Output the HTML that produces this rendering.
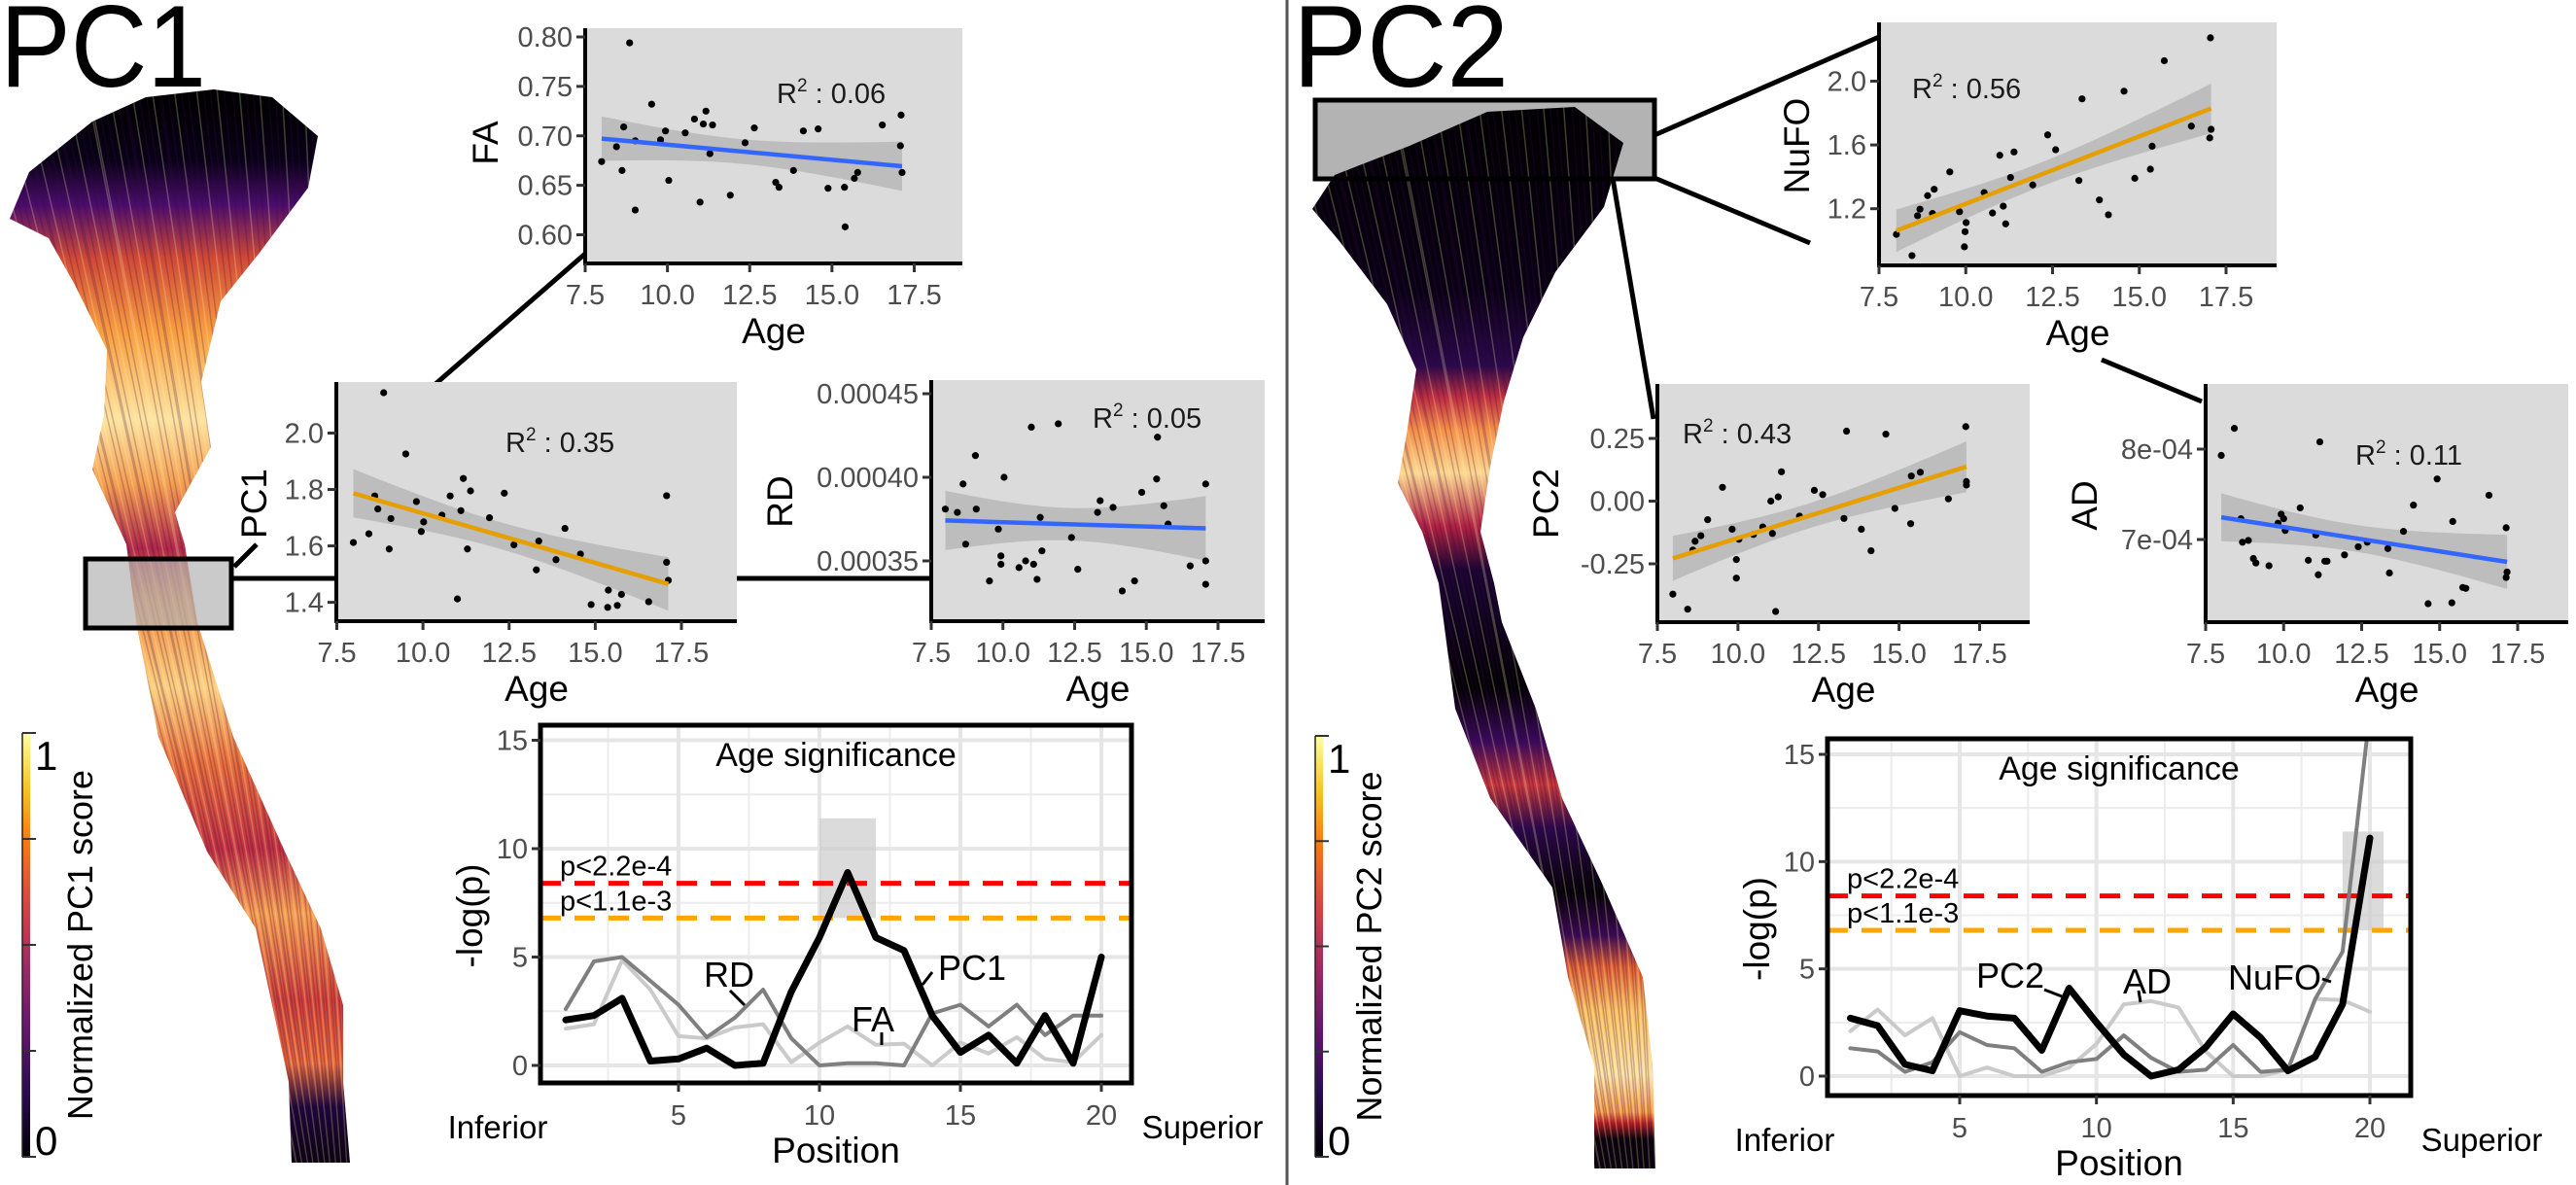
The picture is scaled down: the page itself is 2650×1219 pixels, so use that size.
<!DOCTYPE html>
<html><head><meta charset="utf-8"><style>
html,body{margin:0;padding:0;background:#fff;}
svg{display:block;font-family:"Liberation Sans",sans-serif;}
</style></head><body>
<svg id="fig" width="2650" height="1219" viewBox="0 0 2650 1219" xmlns="http://www.w3.org/2000/svg">
<defs>
<linearGradient id="inferno" x1="0" y1="1" x2="0" y2="0">
<stop offset="0" stop-color="#000004"/><stop offset="0.15" stop-color="#280b54"/><stop offset="0.3" stop-color="#65156e"/><stop offset="0.45" stop-color="#9f2a63"/><stop offset="0.6" stop-color="#d44842"/><stop offset="0.75" stop-color="#f57d15"/><stop offset="0.87" stop-color="#fac228"/><stop offset="1" stop-color="#fcffa4"/>
</linearGradient>
<linearGradient id="tract1" gradientUnits="userSpaceOnUse" x1="0" y1="100" x2="0" y2="1205">
<stop offset="0" stop-color="#000"/><stop offset="0.06" stop-color="#0a0218"/><stop offset="0.1" stop-color="#4a0c6a"/><stop offset="0.15" stop-color="#d04a35"/><stop offset="0.22" stop-color="#f9a040"/><stop offset="0.3" stop-color="#fde4a0"/><stop offset="0.36" stop-color="#f5a050"/><stop offset="0.42" stop-color="#b02848"/><stop offset="0.47" stop-color="#f08a40"/><stop offset="0.55" stop-color="#fcd080"/><stop offset="0.62" stop-color="#e8703a"/><stop offset="0.7" stop-color="#c03040"/><stop offset="0.76" stop-color="#f7a050"/><stop offset="0.84" stop-color="#d04035"/><stop offset="0.9" stop-color="#e86a38"/><stop offset="0.94" stop-color="#1a0535"/><stop offset="1" stop-color="#000"/>
</linearGradient>
<linearGradient id="tract2" gradientUnits="userSpaceOnUse" x1="0" y1="100" x2="0" y2="1205">
<stop offset="0" stop-color="#000"/><stop offset="0.18" stop-color="#0a0214"/><stop offset="0.25" stop-color="#2a0848"/><stop offset="0.28" stop-color="#c03040"/><stop offset="0.31" stop-color="#f59048"/><stop offset="0.35" stop-color="#fcd890"/><stop offset="0.4" stop-color="#b02040"/><stop offset="0.44" stop-color="#1a0530"/><stop offset="0.55" stop-color="#000"/><stop offset="0.6" stop-color="#3a0a5a"/><stop offset="0.64" stop-color="#c83838"/><stop offset="0.68" stop-color="#2a0848"/><stop offset="0.74" stop-color="#000"/><stop offset="0.78" stop-color="#3a0a50"/><stop offset="0.81" stop-color="#e06030"/><stop offset="0.85" stop-color="#fbc060"/><stop offset="0.91" stop-color="#fde4a4"/><stop offset="0.945" stop-color="#f59a48"/><stop offset="0.955" stop-color="#c02020"/><stop offset="0.97" stop-color="#000"/><stop offset="1" stop-color="#000"/>
</linearGradient>
<clipPath id="clipSig1"><rect x="556" y="746" width="608" height="368"/></clipPath>
<clipPath id="clipSig2"><rect x="1880" y="760" width="600" height="367"/></clipPath>
</defs>
<g id="root"></g>
</svg>
<script>
// ---------- scatter data ----------
const ageTicks = [7.5, 10, 12.5, 15, 17.5];
const ageTickLabels = ["7.5", "10.0", "12.5", "15.0", "17.5"];

const faAge = [8.0,8.45,8.62,8.67,8.85,9.02,9.02,9.52,9.79,9.94,10.04,10.54,10.82,10.99,11.09,11.17,11.29,11.37,11.91,12.36,12.64,13.29,13.39,13.83,14.13,14.58,14.88,15.38,15.40,15.68,15.78,16.53,17.1,17.08,17.13];
const faVal = [0.674,0.689,0.665,0.709,0.794,0.625,0.695,0.732,0.696,0.705,0.655,0.703,0.717,0.633,0.712,0.725,0.682,0.711,0.640,0.693,0.708,0.653,0.648,0.665,0.705,0.707,0.647,0.648,0.608,0.657,0.663,0.711,0.721,0.690,0.663];
const faTicks = [0.60, 0.65, 0.70, 0.75, 0.80];
const faTickLabels = ["0.60", "0.65", "0.70", "0.75", "0.80"];

const pc1Age = [7.98,8.43,8.6,8.69,8.86,9.02,9.07,9.5,9.81,9.95,10.02,10.55,10.79,11.0,11.1,11.17,11.29,11.38,11.93,12.36,12.64,13.29,13.36,13.86,14.12,14.57,14.88,15.36,15.38,15.64,15.76,16.55,17.07,17.07,17.12];
const pc1Val = [1.612,1.643,1.777,1.731,2.143,1.589,1.697,1.926,1.757,1.651,1.685,1.709,1.777,1.412,1.725,1.839,1.589,1.795,1.700,1.787,1.604,1.515,1.617,1.551,1.662,1.571,1.392,1.382,1.443,1.389,1.428,1.402,1.778,1.542,1.478];
const pc1Ticks = [1.4, 1.6, 1.8, 2.0];
const pc1TickLabels = ["1.4", "1.6", "1.8", "2.0"];

const rdAge = [7.99,8.41,8.61,8.70,9.04,9.07,9.53,9.84,9.93,9.93,10.04,10.56,10.79,10.99,11.07,11.19,11.3,11.36,11.93,12.39,12.61,13.3,13.39,13.84,14.16,14.59,14.84,15.36,15.39,15.61,15.76,16.53,17.07,17.07,17.07];
const rdVal = [38.1e-5,37.9e-5,39.6e-5,36.0e-5,41.3e-5,38.1e-5,33.8e-5,36.9e-5,35.3e-5,34.8e-5,40.0e-5,34.6e-5,35.0e-5,43.0e-5,34.8e-5,33.9e-5,37.6e-5,35.6e-5,43.2e-5,36.4e-5,34.5e-5,37.9e-5,38.6e-5,38.2e-5,33.2e-5,33.8e-5,39.1e-5,39.9e-5,42.4e-5,38.3e-5,37.2e-5,34.7e-5,39.6e-5,35.0e-5,33.6e-5];
const rdTicks = [0.00035, 0.00040, 0.00045];
const rdTickLabels = ["0.00035", "0.00040", "0.00045"];

const nufoAge = [8.0,8.45,8.61,8.68,8.9,9.04,9.09,9.54,9.82,9.96,9.98,10.01,10.53,10.77,10.98,11.08,11.15,11.29,11.39,11.93,12.36,12.59,13.26,13.35,13.85,14.11,14.56,14.87,15.32,15.37,15.72,16.5,17.05,17.03,17.07];
const nufoVal = [1.039,0.906,1.156,1.197,1.282,1.170,1.322,1.431,1.181,0.961,1.056,1.113,1.301,1.173,1.535,1.216,1.105,1.396,1.556,1.349,1.663,1.570,1.377,1.889,1.255,1.162,1.937,1.391,1.448,1.592,2.128,1.718,2.272,1.644,1.698];
const nufoTicks = [1.2, 1.6, 2.0];
const nufoTickLabels = ["1.2", "1.6", "2.0"];

const pc2Age = [7.98,8.44,8.6,8.67,8.85,9.06,9.52,9.82,9.95,9.95,10.03,10.48,10.77,11.02,11.07,11.17,11.25,11.35,11.91,12.37,12.63,13.29,13.37,13.83,14.13,14.59,14.87,15.36,15.66,16.53,17.07,17.09,17.09,15.38];
const pc2Val = [-0.371,-0.431,-0.195,-0.160,-0.138,-0.074,0.055,-0.112,-0.233,-0.307,-0.152,-0.133,-0.103,0.0,-0.129,-0.440,0.017,0.117,-0.060,0.043,0.026,-0.069,0.279,-0.112,-0.198,0.267,-0.029,-0.090,0.115,0.009,0.297,0.078,0.064,0.100];
const pc2Ticks = [-0.25, 0, 0.25];
const pc2TickLabels = ["-0.25", "0.00", "0.25"];

const adAge = [8.0,8.42,8.63,8.68,8.87,9.03,9.11,9.53,9.82,9.92,10.0,10.05,10.53,10.79,11.03,11.11,11.16,11.32,11.39,11.95,12.39,12.68,13.34,13.39,13.84,14.16,14.63,14.92,15.39,15.42,15.74,15.84,16.58,17.13,17.16,17.13];
const adVal = [7.93e-4,8.23e-4,7.23e-4,6.97e-4,6.99e-4,6.79e-4,6.74e-4,6.71e-4,7.18e-4,7.28e-4,7.23e-4,7.10e-4,7.35e-4,6.77e-4,7.05e-4,6.61e-4,8.08e-4,6.76e-4,6.76e-4,6.83e-4,6.92e-4,6.97e-4,6.90e-4,6.63e-4,7.09e-4,7.38e-4,6.29e-4,7.67e-4,6.30e-4,7.20e-4,6.47e-4,6.46e-4,7.49e-4,7.13e-4,6.64e-4,6.58e-4];
const adTicks = [7e-4, 8e-4];
const adTickLabels = ["7e-04", "8e-04"];

// ---------- significance data ----------
const positions = [1,2,3,4,5,6,7,8,9,10,11,12,13,14,15,16,17,18,19,20];
const sigTicks = [0, 5, 10, 15];
const sigTickLabels = ["0", "5", "10", "15"];
const posTicks = [5, 10, 15, 20];
const posTickLabels = ["5", "10", "15", "20"];
const pc1Sig = [2.1,2.3,3.1,0.2,0.3,0.8,0.0,0.1,3.4,5.9,8.9,5.9,5.3,2.3,0.6,1.4,0.1,2.3,0.1,5.0];
const rdSig  = [2.6,4.8,5.0,3.9,2.8,1.3,2.2,3.5,1.25,0.0,0.1,0.1,0.0,2.4,2.8,1.8,2.8,1.4,2.3,2.3];
const faSig  = [1.7,1.9,4.85,3.5,1.35,1.25,1.75,1.9,0.15,1.05,1.8,0.95,1.0,0.0,1.05,0.55,1.3,0.3,0.15,1.4];
const pc2Sig = [2.7,2.35,0.55,0.25,3.05,2.8,2.7,1.2,4.1,2.5,1.0,0.0,0.3,1.35,2.9,1.8,0.25,0.9,3.35,11.1];
const nufoSig = [1.3,1.15,0.2,0.65,2.05,1.45,1.3,0.2,0.65,0.8,1.9,0.85,0.2,0.3,1.45,0.2,0.3,3.6,5.8,17];
const adSig  = [2.1,3.1,1.9,2.7,0.0,0.4,0.0,0.0,0.4,1.5,3.35,3.5,3.2,1.15,0.0,0.0,0.3,3.6,3.55,3.0];
const thresholds = [8.4, 6.8];
const thresholdLabels = ["p<2.2e-4", "p<1.1e-3"];
const sig1Highlight = [10, 12, 6.8, 11.4];
const sig2Highlight = [19, 20.5, 6.8, 11.4];

// ---------- helpers ----------
const NS = "http://www.w3.org/2000/svg";
const root = document.getElementById("root");
function mk(tag, attrs, parent) {
  const e = document.createElementNS(NS, tag);
  for (const k in attrs) e.setAttribute(k, attrs[k]);
  (parent || root).appendChild(e);
  return e;
}
function txt(str, attrs, parent) {
  const t = mk("text", attrs, parent);
  t.textContent = str;
  return t;
}
function lin(d0, d1, r0, r1) { return v => r0 + (v - d0) * (r1 - r0) / (d1 - d0); }

function scatter(cfg, ages, vals, yTicks, yTickLabels) {
  const g = mk("g", {});
  
  
  const X = lin(7.5, 17.5, cfg.x75, cfg.x175);
  const Y = lin(cfg.yv0, cfg.yv1, cfg.yp0, cfg.yp1);
  const bg = mk("rect", {x: cfg.L, y: cfg.T, width: cfg.R - cfg.L, height: cfg.B - cfg.T, fill: "#dbdbdb"}, g);
  
  
  const n = ages.length;
  let mx = 0, my = 0; for (let i = 0; i < n; i++) { mx += ages[i]; my += vals[i]; } mx /= n; my /= n;
  let sxx = 0, sxy = 0; for (let i = 0; i < n; i++) { sxx += (ages[i]-mx)**2; sxy += (ages[i]-mx)*(vals[i]-my); }
  const b = sxy / sxx, a = my - b * mx;
  let sse = 0; for (let i = 0; i < n; i++) sse += (vals[i] - a - b*ages[i])**2;
  const s = Math.sqrt(sse / (n - 2));
  const amin = Math.min(...ages), amax = Math.max(...ages);
  const up = [], dn = [];
  for (let k = 0; k <= 40; k++) {
    const x = amin + (amax - amin) * k / 40;
    const f = a + b * x, se = s * Math.sqrt(1/n + (x-mx)**2 / sxx) * 2.03;
    up.push(X(x).toFixed(1) + "," + Y(f + se).toFixed(1));
    dn.unshift(X(x).toFixed(1) + "," + Y(f - se).toFixed(1));
  }
  const band = mk("polygon", {points: up.concat(dn).join(" "), fill: "#9a9a9a", "fill-opacity": "0.45"}, g);
  
  
  for (let i = 0; i < n; i++) {
    const c = mk("circle", {cx: X(ages[i]), cy: Y(vals[i]), r: 3.6, fill: "#000"}, g);
    
    
  }
  const fl = mk("line", {x1: X(amin), y1: Y(a + b*amin), x2: X(amax), y2: Y(a + b*amax), stroke: cfg.color, "stroke-width": 4.5}, g);
  
  
  const ya = mk("line", {x1: cfg.L, y1: cfg.T, x2: cfg.L, y2: cfg.B + 2, stroke: "#000", "stroke-width": 4}, g);
  
  
  const xa = mk("line", {x1: cfg.L - 2, y1: cfg.B, x2: cfg.R, y2: cfg.B, stroke: "#000", "stroke-width": 4}, g);
  
  
  for (let i = 0; i < yTicks.length; i++) {
    const y = Y(yTicks[i]);
    mk("line", {x1: cfg.L - 9, y1: y, x2: cfg.L, y2: y, stroke: "#333", "stroke-width": 3}, g);
    const t = txt(yTickLabels[i], {x: cfg.L - 13, y: y + 10, "text-anchor": "end", "font-size": 29, fill: "#4d4d4d"}, g);
    
    
  }
  for (let i = 0; i < ageTicks.length; i++) {
    const x = X(ageTicks[i]);
    mk("line", {x1: x, y1: cfg.B, x2: x, y2: cfg.B + 9, stroke: "#333", "stroke-width": 3}, g);
    const t = txt(ageTickLabels[i], {x: x, y: cfg.B + 42, "text-anchor": "middle", "font-size": 29, fill: "#4d4d4d"}, g);
    
    
  }
  const xt = txt("Age", {x: (cfg.L + cfg.R) / 2, y: cfg.B + 82, "text-anchor": "middle", "font-size": 37, fill: "#000"}, g);
  
  
  const yt = txt(cfg.ylab, {x: 0, y: 0, "text-anchor": "middle", "font-size": 37, fill: "#000", transform: `translate(${cfg.ytx},${cfg.yty}) rotate(-90)`}, g);
  
  
  const r2 = mk("text", {x: cfg.r2x, y: cfg.r2y, "font-size": 29, fill: "#1a1a1a"}, g);
  
  
  const t1 = mk("tspan", {}, r2); t1.textContent = "R";
  const t2 = mk("tspan", {dy: -12, "font-size": 19}, r2); t2.textContent = "2";
  const t3 = mk("tspan", {dy: 12}, r2); t3.textContent = " : " + cfg.r2;
}

function sigPanel(cfg, series) {
  const g = mk("g", {});
  
  
  const X = lin(5, 20, cfg.x5, cfg.x20);
  const Y = lin(0, 15, cfg.y0, cfg.y15);
  mk("rect", {x: cfg.L, y: cfg.T, width: cfg.R - cfg.L, height: cfg.B - cfg.T, fill: "#fff"}, g);
  const grid = mk("g", {"clip-path": `url(#${cfg.clip})`}, g);
  
  
  [2.5, 7.5, 12.5].forEach(v => mk("line", {x1: cfg.L, x2: cfg.R, y1: Y(v), y2: Y(v), stroke: "#ececec", "stroke-width": 2}, grid));
  [2.5, 7.5, 12.5, 17.5].forEach(v => mk("line", {x1: X(v), x2: X(v), y1: cfg.T, y2: cfg.B, stroke: "#ececec", "stroke-width": 2}, grid));
  sigTicks.forEach(v => mk("line", {x1: cfg.L, x2: cfg.R, y1: Y(v), y2: Y(v), stroke: "#e6e6e6", "stroke-width": 4}, grid));
  posTicks.forEach(v => mk("line", {x1: X(v), x2: X(v), y1: cfg.T, y2: cfg.B, stroke: "#e6e6e6", "stroke-width": 4}, grid));
  const h = cfg.hl;
  const hr = mk("rect", {x: X(h[0]), y: Y(h[3]), width: X(h[1]) - X(h[0]), height: Y(h[2]) - Y(h[3]), fill: "#cccccc", "fill-opacity": "0.7"}, grid);
  
  
  const thrColors = ["#ff0000", "#ffa500"];
  thresholds.forEach((v, i) => {
    const l = mk("line", {x1: cfg.L, x2: cfg.R, y1: Y(v), y2: Y(v), stroke: thrColors[i], "stroke-width": 5, "stroke-dasharray": "21 14"}, grid);
    
    
    const t = txt(thresholdLabels[i], {x: cfg.L + 20, y: Y(v) - 8, "font-size": 29, fill: "#000"}, g);
    
    
  });
  series.forEach(s => {
    const pts = positions.map((p, i) => X(p).toFixed(1) + "," + Y(s.vals[i]).toFixed(1)).join(" ");
    const pl = mk("polyline", {points: pts, fill: "none", stroke: s.color, "stroke-width": s.w, "stroke-linejoin": "round", "stroke-linecap": "round"}, grid);
    
    
  });
  mk("rect", {x: cfg.L, y: cfg.T, width: cfg.R - cfg.L, height: cfg.B - cfg.T, fill: "none", stroke: "#000", "stroke-width": 5}, g);
  sigTicks.forEach((v, i) => {
    mk("line", {x1: cfg.L - 9, x2: cfg.L, y1: Y(v), y2: Y(v), stroke: "#333", "stroke-width": 3}, g);
    const t = txt(sigTickLabels[i], {x: cfg.L - 13, y: Y(v) + 10, "text-anchor": "end", "font-size": 29, fill: "#4d4d4d"}, g);
    
    
  });
  posTicks.forEach((v, i) => {
    mk("line", {x1: X(v), x2: X(v), y1: cfg.B, y2: cfg.B + 9, stroke: "#333", "stroke-width": 3}, g);
    const t = txt(posTickLabels[i], {x: X(v), y: cfg.B + 43, "text-anchor": "middle", "font-size": 29, fill: "#4d4d4d"}, g);
    
    
  });
  const tt = txt("Age significance", {x: (cfg.L + cfg.R) / 2, y: cfg.T + 42, "text-anchor": "middle", "font-size": 34, fill: "#000"}, g);
  
  
  const xt = txt("Position", {x: (cfg.L + cfg.R) / 2, y: cfg.B + 82, "text-anchor": "middle", "font-size": 37, fill: "#000"}, g);
  
  
  const inf = txt("Inferior", {x: cfg.L - 44, y: cfg.B + 57, "text-anchor": "middle", "font-size": 33, fill: "#000"}, g);
  
  
  const sup = txt("Superior", {x: cfg.R + 73, y: cfg.B + 57, "text-anchor": "middle", "font-size": 33, fill: "#000"}, g);
  
  
  const yt = txt("-log(p)", {x: 0, y: 0, "text-anchor": "middle", "font-size": 37, fill: "#000", transform: `translate(${cfg.L - 60},${(cfg.T + cfg.B) / 2 + 12}) rotate(-90)`}, g);
  
  
  cfg.labels.forEach(lb => {
    const t = txt(lb.t, {x: lb.x, y: lb.y, "text-anchor": "middle", "font-size": 36, fill: "#000"}, g);
    
    
    mk("line", {x1: lb.l[0], y1: lb.l[1], x2: lb.l[2], y2: lb.l[3], stroke: "#000", "stroke-width": 3}, g);
  });
}

// ---------- tracts ----------
function tract(name, pts, grad, clipId) {
  const cp = mk("clipPath", {id: clipId});
  mk("polygon", {points: pts}, cp);
  const g = mk("g", {});
  
  
  mk("polygon", {points: pts, fill: `url(#${grad})`}, g);
  const strands = mk("g", {"clip-path": `url(#${clipId})`, opacity: "0.25"}, g);
  for (let i = 0; i < 60; i++) {
    const off = (i * 37) % 400 - 200;
    mk("line", {x1: 0, y1: 0, x2: 0, y2: 0, stroke: i % 3 ? "#3a0a50" : "#fff2c0", "stroke-width": 1.5,
      transform: "", x1: off + (name === "pc1-tract" ? 180 : 1520), y1: 90, x2: off * 0.25 + (name === "pc1-tract" ? 330 : 1670), y2: 1210}, strands);
  }
  return g;
}
tract("pc1-tract", "150,100 95,125 30,177 10,225 50,245 77,293 110,360 107,427 95,483 130,560 140,640 163,758 213,876 263,955 280,1034 297,1113 300,1196 360,1196 353,1113 353,1034 330,955 293,876 240,758 203,640 190,560 180,527 217,460 207,393 227,310 267,260 317,193 327,140 280,100 220,92", "tract1", "clipT1");
const b1 = mk("rect", {x: 88, y: 575, width: 150, height: 71, fill: "#b3b3b3", "fill-opacity": "0.7", stroke: "#000", "stroke-width": 5});


const b2 = mk("rect", {x: 1353, y: 103, width: 349, height: 81, fill: "#b3b3b3", stroke: "#000", "stroke-width": 5});


tract("pc2-tract", "1530,115 1450,150 1373,180 1350,215 1377,247 1427,313 1457,380 1447,447 1438,497 1463,547 1480,600 1497,729 1533,821 1597,913 1613,1005 1640,1096 1640,1202 1703,1202 1700,1096 1690,1005 1650,913 1607,821 1580,729 1545,640 1537,600 1523,547 1533,480 1547,413 1567,347 1600,280 1650,213 1670,147 1620,110", "tract2", "clipT2");
mk("rect", {x: 1353, y: 103, width: 349, height: 81, fill: "none", stroke: "#000", "stroke-width": 5});

[[238,595,346,595],[756,595,957,595],[241,583,264,560],[448,395,602,261],
 [1702,139,1933,38],[1702,183,1862,250],[1659,183,1701,431],[2162,370,2265,413]].forEach(c => {
  const l = mk("line", {x1: c[0], y1: c[1], x2: c[2], y2: c[3], stroke: "#000", "stroke-width": 5});
  
  
});

const dv = mk("line", {x1: 1324, y1: 0, x2: 1324, y2: 1219, stroke: "#555", "stroke-width": 3});



const h1 = txt("PC1", {x: 0, y: 89, "font-size": 120, fill: "#000", textLength: 212, lengthAdjust: "spacingAndGlyphs"});


const h2 = txt("PC2", {x: 1330, y: 89, "font-size": 120, fill: "#000", textLength: 222, lengthAdjust: "spacingAndGlyphs"});



function colorbar(name, x, y0, y1, label, tx) {
  const g = mk("g", {});
  
  
  mk("rect", {x: x, y: y0, width: 8, height: y1 - y0, fill: "url(#inferno)"}, g);
  for (let i = 0; i <= 4; i++) {
    const y = y0 + (y1 - y0) * i / 4;
    mk("line", {x1: x, x2: x + 14, y1: y, y2: y, stroke: "#333", "stroke-width": 2}, g);
  }
  mk("line", {x1: x, x2: x, y1: y0, y2: y1, stroke: "#222", "stroke-width": 1.5}, g);
  txt("1", {x: x + 13, y: y0 + 38, "font-size": 42, fill: "#000"}, g);
  txt("0", {x: x + 13, y: y1 - 2, "font-size": 42, fill: "#000"}, g);
  const t = txt(label, {x: 0, y: 0, "text-anchor": "middle", "font-size": 36, fill: "#000", transform: `translate(${tx},${(y0 + y1) / 2}) rotate(-90)`}, g);
  
  
}
colorbar("pc1-colorbar", 23, 754, 1190, "Normalized PC1 score", 95);
colorbar("pc2-colorbar", 1353, 757, 1190, "Normalized PC2 score", 1421);

scatter({name: "fa-scatter", L: 602, R: 990, T: 29, B: 271, x75: 602, x175: 940.5, yv0: 0.80, yp0: 38, yv1: 0.60, yp1: 241.5, color: "#3366ff", ylab: "FA", ytx: 512, yty: 147, r2x: 799, r2y: 106, r2: "0.06"}, faAge, faVal, faTicks, faTickLabels);
scatter({name: "pc1-scatter", L: 346, R: 758, T: 393, B: 639, x75: 346.5, x175: 701, yv0: 2.0, yp0: 445.5, yv1: 1.4, yp1: 619.6, color: "#e69f00", ylab: "PC1", ytx: 274, yty: 518, r2x: 520, r2y: 465, r2: "0.35"}, pc1Age, pc1Val, pc1Ticks, pc1TickLabels);
scatter({name: "rd-scatter", L: 958, R: 1301, T: 391, B: 639, x75: 958, x175: 1253, yv0: 0.00045, yp0: 405, yv1: 0.00035, yp1: 577, color: "#3366ff", ylab: "RD", ytx: 815, yty: 516, r2x: 1124, r2y: 440, r2: "0.05"}, rdAge, rdVal, rdTicks, rdTickLabels);
scatter({name: "nufo-scatter", L: 1933, R: 2342, T: 23, B: 273, x75: 1933, x175: 2290, yv0: 2.0, yp0: 83.5, yv1: 1.2, yp1: 214.7, color: "#e69f00", ylab: "NuFO", ytx: 1861, yty: 150, r2x: 1967, r2y: 101, r2: "0.56"}, nufoAge, nufoVal, nufoTicks, nufoTickLabels);
scatter({name: "pc2-scatter", L: 1705, R: 2088, T: 395, B: 640, x75: 1705, x175: 2036.5, yv0: 0.25, yp0: 451, yv1: -0.25, yp1: 580, color: "#e69f00", ylab: "PC2", ytx: 1603, yty: 518, r2x: 1731, r2y: 456, r2: "0.43"}, pc2Age, pc2Val, pc2Ticks, pc2TickLabels);
scatter({name: "ad-scatter", L: 2269, R: 2642, T: 395, B: 640, x75: 2269, x175: 2590, yv0: 8e-4, yp0: 462, yv1: 7e-4, yp1: 555, color: "#3366ff", ylab: "AD", ytx: 2157, yty: 520, r2x: 2423, r2y: 478, r2: "0.11"}, adAge, adVal, adTicks, adTickLabels);

sigPanel({name: "pc1-age-significance", L: 556, R: 1164, T: 746, B: 1114, x5: 698, x20: 1133, y0: 1096, y15: 761.5, clip: "clipSig1", hl: sig1Highlight,
  labels: [{t: "RD", x: 750, y: 1015, l: [751,1019,766,1034]}, {t: "FA", x: 898, y: 1061, l: [907,1062,907,1075]}, {t: "PC1", x: 1000, y: 1008, l: [959,1000,949,1013]}]},
  [{name: "fa-line", vals: faSig, color: "#cacaca", w: 4}, {name: "rd-line", vals: rdSig, color: "#7f7f7f", w: 4}, {name: "pc1-line", vals: pc1Sig, color: "#000", w: 7}]);
sigPanel({name: "pc2-age-significance", L: 1880, R: 2480, T: 760, B: 1127, x5: 2016, x20: 2438, y0: 1107, y15: 776, clip: "clipSig2", hl: sig2Highlight,
  labels: [{t: "PC2", x: 2068, y: 1016, l: [2103,1018,2121,1025]}, {t: "AD", x: 2209, y: 1022, l: [2200,1019,2202,1031]}, {t: "NuFO", x: 2340, y: 1018, l: [2389,1007,2398,1010]}]},
  [{name: "ad-line", vals: adSig, color: "#cacaca", w: 4}, {name: "nufo-line", vals: nufoSig, color: "#7f7f7f", w: 4}, {name: "pc2-line", vals: pc2Sig, color: "#000", w: 7}]);
</script>
</body></html>
